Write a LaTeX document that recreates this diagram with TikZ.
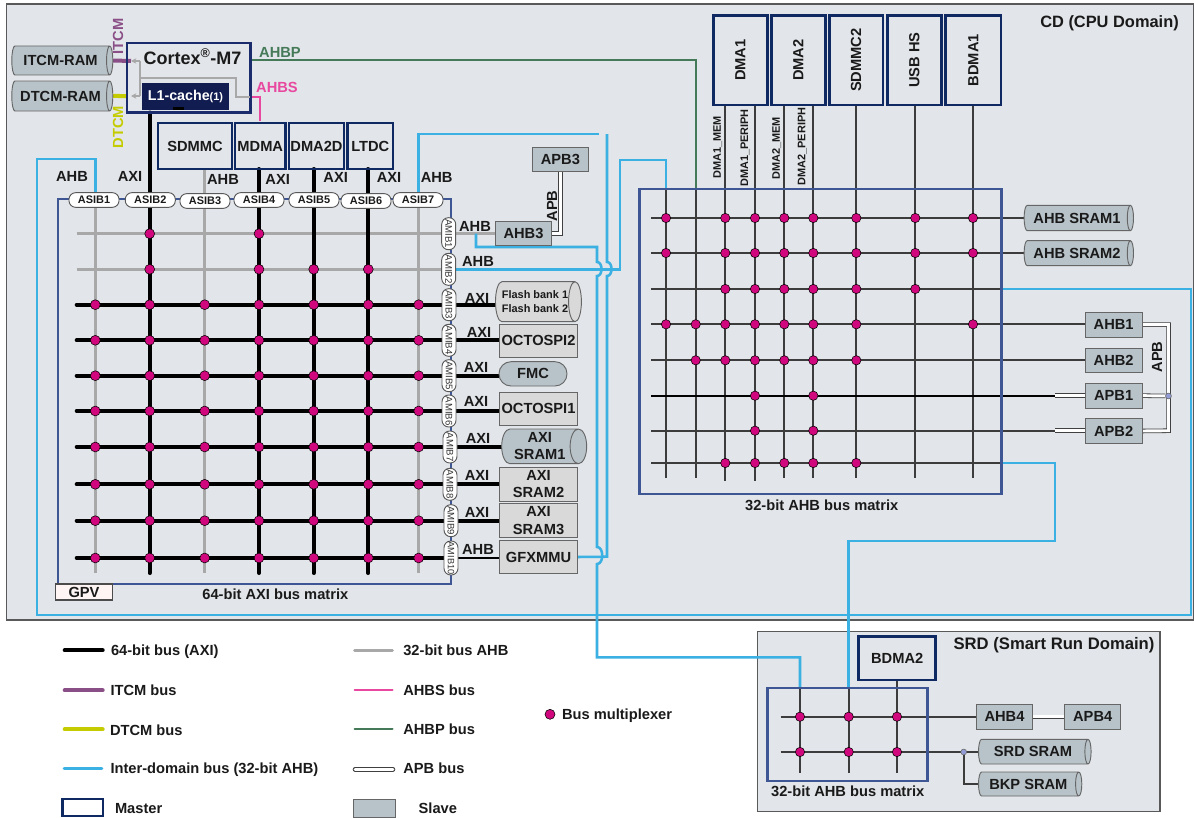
\documentclass[tikz,border=0pt]{standalone}
\usepackage{fontspec}
\setmainfont{Liberation Sans}
\usepackage{graphicx}
\usetikzlibrary{shapes.geometric,arrows.meta}
\definecolor{dombg}{HTML}{E2E5E9}
\definecolor{slaveblue}{HTML}{B8C3C9}
\definecolor{slavegray}{HTML}{D9D9D9}
\definecolor{masternavy}{HTML}{0F2A63}
\definecolor{cortexnavy}{HTML}{1A2C6B}
\definecolor{l1navy}{HTML}{111C50}
\definecolor{framenavy}{HTML}{3E5694}
\definecolor{cyanbus}{HTML}{3AB0E3}
\definecolor{graybus}{HTML}{A8A8A8}
\definecolor{darkbus}{HTML}{3C3C3C}
\definecolor{muxpink}{HTML}{D1087D}
\definecolor{itcmcol}{HTML}{8A4F87}
\definecolor{dtcmcol}{HTML}{C4CC00}
\definecolor{ahbpcol}{HTML}{457A58}
\definecolor{ahbscol}{HTML}{E8489F}
\definecolor{txt}{HTML}{1A1A1A}
\pgfdeclarelayer{dom}
\pgfdeclarelayer{bus}
\pgfsetlayers{dom,bus,main}
\newcommand{\bx}[7]{\node[#1,minimum width={(#5-#3)*0.75pt},minimum height={(#6-#4)*0.75pt}] (#2) at ({(#3+#5)/2},{(#4+#6)/2}) {#7};}
\newcommand{\cy}[7]{\node[#1,minimum width={(#6-#4)*0.75pt},minimum height={(#5-#3)*0.75pt}] (#2) at ({(#3+#5)/2},{(#4+#6)/2}) {#7};}
\tikzset{
  base/.style={inner sep=0pt,outer sep=0pt,text=txt},
  lab/.style={base,font=\fontsize{11pt}{13pt}\selectfont\bfseries},
  labl/.style={lab,anchor=west,text height=8pt,text depth=0pt},
  titl/.style={base,text height=8.6pt,text depth=0pt},
  small/.style={base,font=\fontsize{8.2pt}{10pt}\selectfont\bfseries},
  dombox/.style={base,draw=black!65,line width=0.9pt,fill=dombg},
  mframe/.style={base,draw=framenavy,line width=1.9pt},
  master/.style={lab,draw=masternavy,line width=1.9pt},
  slave/.style={lab,draw=black!60,line width=0.7pt,fill=slaveblue,align=center},
  slavel/.style={slave,fill=slavegray},
  cyl/.style={slave,cylinder,shape border rotate=0,aspect=.6},
  cyll/.style={cyl,fill=slavegray},
  asib/.style={base,draw=black!65,line width=0.7pt,fill=white,rounded corners=5pt,minimum width=37.5pt,minimum height=11pt,font=\fontsize{8.2pt}{10pt}\selectfont\bfseries},
  amib/.style={base,draw=black!65,line width=0.7pt,fill=white,rounded corners=5pt,minimum width=24pt,minimum height=10.5pt,rotate=-90,font=\fontsize{7.2pt}{9pt}\selectfont,text=black!80},
  mux/.style={circle,draw=black,line width=0.4pt,fill=muxpink,minimum size=7.4pt,inner sep=0pt},
  joint/.style={circle,draw=black!60,line width=0.4pt,fill=blue!20!slaveblue,minimum size=4.4pt,inner sep=0pt},
  axibus/.style={draw=black,line width=3pt,line cap=round},
  axithin/.style={draw=black,line width=1.4pt},
  grayb/.style={draw=graybus,line width=2.2pt},
  darkb/.style={draw=darkbus,line width=1.7pt},
  cyanb/.style={draw=cyanbus,line width=1.9pt},
  itcmb/.style={draw=itcmcol,line width=3pt},
  dtcmb/.style={draw=dtcmcol,line width=3pt},
  ahbpb/.style={draw=ahbpcol,line width=1.5pt},
  ahbsb/.style={draw=ahbscol,line width=1.5pt},
  apbb/.style={draw=black!75,line width=0.6pt,double=white,double distance=2.2pt},
  innerb/.style={draw=graybus,line width=1.2pt},
  innerarr/.style={innerb,-{Stealth[length=4pt,width=4pt]}},
}
\begin{document}
\begin{tikzpicture}[x=0.75pt,y=-0.75pt]
\useasboundingbox (0,0) rectangle (1194,817);
\begin{pgfonlayer}{dom}
  \fill[white] (0,0) rectangle (1194,817);
  \bx{dombox}{cd}{6.5}{4}{1194}{620}{}
  \bx{dombox}{srd}{757.5}{631.7}{1160}{811.7}{}
\end{pgfonlayer}
\node[titl,font=\fontsize{12.3pt}{14pt}\selectfont\bfseries] (cdt) at (1109.5,22) {CD (CPU Domain)};
\node[titl,font=\fontsize{12.5pt}{14pt}\selectfont\bfseries] (srdt) at (1054,644) {SRD (Smart Run Domain)};

% matrix frames
\bx{mframe}{mx64}{58}{199}{451}{584}{}
\bx{mframe}{mx32}{639.5}{189}{1001.3}{494}{}
\bx{mframe}{mxs}{767.7}{688}{927.3}{781}{}

% top-left block
\cy{cyl}{itcm}{10}{46}{111}{75}{ITCM-RAM}
\cy{cyl}{dtcm}{10}{81}{111}{111}{DTCM-RAM}
\bx{base,draw=cortexnavy,line width=1.9pt}{cortex}{127}{43}{250.5}{112.5}{}
\node[lab,font=\fontsize{13.5pt}{15pt}\selectfont\bfseries] (cortext) at (192.5,57) {Cortex\textsuperscript{®}-M7};
\bx{base,fill=l1navy,text=white,font=\fontsize{10.7pt}{13pt}\selectfont\bfseries}{l1}{142}{83}{229}{110}{L1-cache{\fontsize{8.2pt}{10pt}\selectfont(1)}}
\bx{master}{sdmmc}{158}{123}{232}{169}{SDMMC}
\bx{master}{mdma}{235}{123}{285.5}{169}{MDMA}
\bx{master}{dma2d}{289}{123}{344}{169}{DMA2D}
\bx{master}{ltdc}{347.5}{123}{393}{169}{LTDC}
\bx{base,draw=black!70,line width=0.9pt,fill=pink!15!white,font=\fontsize{11pt}{13pt}\selectfont\bfseries}{gpv}{55.7}{584}{112.3}{600}{GPV}

% ASIB / AMIB
\foreach \k/\x/\y in {1/94/200,2/150.3/200,3/205/201,4/259/200,5/314/200,6/366/201,7/418/200}
  \node[asib] (asib\k) at (\x,\y) {ASIB\k};
\foreach \k/\x/\y in {1/448.7/233.7,2/448.7/269.3,3/449/304.7,4/449/340.3,5/449/375.7,6/449/411,7/450/447,8/450/484.3,9/451/520.7}
  \node[amib] (amib\k) at (\x,\y) {AMIB\k};
\node[amib,minimum width=25.5pt,font=\fontsize{6.9pt}{9pt}\selectfont] (amib10) at (451,558) {AMIB10};

% left slaves
\bx{slave}{ahbt}{495.3}{221}{551.7}{245.7}{AHB3}
\bx{slave}{apbt}{532}{147}{588.7}{171.7}{APB3}
\cy{cyll,font=\fontsize{8.2pt}{10pt}\selectfont\bfseries}{flash}{492.7}{281.7}{577.3}{321.7}{Flash bank 1\\Flash bank 2}
\bx{slavel}{octb}{499.3}{324}{577.7}{357.3}{OCTOSPI2}
\bx{slave,rounded corners=9pt}{fmc}{499}{361.7}{567}{386}{FMC}
\bx{slavel}{octa}{499.3}{392}{577.7}{425.3}{OCTOSPI1}
\cy{cyl}{srama}{497.3}{429}{582.3}{463.7}{AXI\\SRAM1}
\bx{slavel}{sramb}{499.3}{467.3}{577.7}{501}{AXI\\SRAM2}
\bx{slavel}{sramc}{499.3}{503.7}{577.7}{537.3}{AXI\\SRAM3}
\bx{slavel}{gfx}{499.3}{540.3}{577.7}{573.7}{GFXMMU}

% right masters
\bx{master}{dmaa}{713.3}{15.3}{767.3}{105}{\rotatebox{90}{DMA1}}
\bx{master}{dmab}{771.3}{15.3}{825.3}{105}{\rotatebox{90}{DMA2}}
\bx{master}{sdmmcb}{829.3}{15.3}{883}{105}{\rotatebox{90}{SDMMC2}}
\bx{master}{usbhs}{887.3}{15.3}{941.3}{105}{\rotatebox{90}{USB HS}}
\bx{master}{bdmaa}{945.7}{15.3}{1001}{105}{\rotatebox{90}{BDMA1}}

% right slaves
\cy{cyl}{srsa}{1022.3}{205.3}{1131.7}{230.7}{AHB SRAM1}
\cy{cyl}{srsb}{1022.3}{240.7}{1131.7}{265.7}{AHB SRAM2}
\bx{slave}{ahba}{1085.3}{312.3}{1142}{337}{AHB1}
\bx{slave}{ahbb}{1085.3}{348.3}{1142}{372.7}{AHB2}
\bx{slave}{apba}{1085.3}{383.3}{1142}{408}{APB1}
\bx{slave}{apbb}{1085.3}{418.7}{1142}{443.3}{APB2}

% SRD
\bx{master}{bdmab}{858.7}{636.7}{935.7}{680}{BDMA2}
\bx{slave}{ahbd}{976.3}{704.7}{1032.7}{729}{AHB4}
\bx{slave}{apbd}{1064.7}{704.7}{1120.7}{729}{APB4}
\cy{cyl}{srdsram}{976.7}{739.3}{1089.3}{764}{SRD SRAM}
\cy{cyl}{bkpsram}{976.7}{772}{1080}{796}{BKP SRAM}

% grid coordinates
\foreach \j/\x in {1/95.3,2/149.7,3/204.7,4/259,5/313.7,6/368.3,7/418.7}
  \coordinate (lc\j) at (\x,573);
\foreach \i/\y in {1/233.7,2/269.3,3/304.7,4/340.3,5/375.7,6/411,7/447,8/484.3,9/520.7,10/558}
  \coordinate (lr\i) at (76.7,\y);
\foreach \j/\x/\y in {1/666/478,2/695.7/478,3/725.3/481,4/755/481,5/784.3/478,6/813.3/478,7/856.3/478,8/915.3/478,9/973/478}
  \coordinate (rc\j) at (\x,\y);
\foreach \i/\y in {1/218,2/253,3/289,4/324.3,5/360.3,6/395.7,7/430.7,8/463}
  \coordinate (rr\i) at (651.3,\y);
\foreach \j/\x in {1/800,2/848.7,3/897}
  \coordinate (sc\j) at (\x,773.3);
\foreach \i/\y in {1/716.7,2/752}
  \coordinate (sr\i) at (780.7,\y);
\coordinate (rendc) at (mx32.east |- rr3);
\coordinate (rendh) at (mx32.east |- rr8);
\coordinate (dblf) at (1055,395.7);
\coordinate (dblg) at (1055,430.7);
\coordinate (apbtop) at (1168.5,324.7);
\coordinate (apbbot) at (1168.5,430.7);
\coordinate (cjn) at (476,233.7);
\coordinate (cgap) at (599,134);
\coordinate (ctop) at (607,134);
\node[joint] (jnr) at (1168.5,396) {};
\node[joint] (jns) at (963.7,752) {};

\begin{pgfonlayer}{bus}
  % left grid
  \draw[grayb] (lc1 |- asib1.south) -- (lc1);
  \draw[grayb] (lc3 |- sdmmc.south) -- (lc3);
  \draw[grayb] (lc7 |- asib7.south) -- (lc7);
  \draw[grayb] (lr1) -- (amib1.center);
  \draw[grayb] (lr2) -- (amib2.center);
  \draw[axibus] (lc2 |- cortex.south) -- (lc2);
  \draw[axibus] (lc4 |- mdma.south) -- (lc4);
  \draw[axibus] (lc5 |- dma2d.south) -- (lc5);
  \draw[axibus] (lc6 |- ltdc.south) -- (lc6);
  \foreach \i in {3,...,10} \draw[axibus] (lr\i) -- (amib\i.center);
  \foreach \i/\n in {3/flash,4/octb,5/fmc,6/octa,7/srama,8/sramb,9/sramc}
    \draw[axibus,line cap=butt] (amib\i.center) -- (amib\i.center -| \n.west);
  \draw[axithin] (amib10.center) -- (amib10.center -| gfx.west);
  \draw[grayb] (amib1.center) -- (amib1.center -| ahbt.west);
  % right grid
  \draw[darkb] (rc1 |- mx32.north) -- (rc1);
  \draw[darkb] (rc2 |- mx32.north) -- (rc2);
  \draw[darkb] (rc3 |- dmaa.south) -- (rc3);
  \draw[darkb] (rc4 |- dmaa.south) -- (rc4);
  \draw[darkb] (rc5 |- dmab.south) -- (rc5);
  \draw[darkb] (rc6 |- dmab.south) -- (rc6);
  \draw[darkb] (rc7 |- sdmmcb.south) -- (rc7);
  \draw[darkb] (rc8 |- usbhs.south) -- (rc8);
  \draw[darkb] (rc9 |- bdmaa.south) -- (rc9);
  \draw[darkb] (rr1) -- (rr1 -| srsa.west);
  \draw[darkb] (rr2) -- (rr2 -| srsb.west);
  \draw[darkb] (rr3) -- (rendc);
  \draw[darkb] (rr4) -- (rr4 -| ahba.west);
  \draw[darkb] (rr5) -- (rr5 -| ahbb.west);
  \draw[axithin] (rr6) -- (dblf);
  \draw[darkb] (rr7) -- (dblg);
  \draw[darkb] (rr8) -- (rendh);
  \draw[apbb] (dblf) -- (dblf -| apba.west);
  \draw[apbb] (dblg) -- (dblg -| apbb.west);
  \draw[apbb] (ahba.east) -- (apbtop) -- (apbbot) -- (apbb.east);
  \draw[apbb] (apba.east) -- (jnr);
  % SRD grid
  \draw[darkb] (sc1 |- mxs.north) -- (sc1);
  \draw[darkb] (sc2 |- mxs.north) -- (sc2);
  \draw[darkb] (sc3 |- bdmab.south) -- (sc3);
  \draw[darkb] (sr1) -- (sr1 -| ahbd.west);
  \draw[darkb] (sr2) -- (sr2 -| srdsram.west);
  \draw[darkb] (jns) |- (bkpsram.west);
  \draw[apbb] (ahbd.east) -- (apbd.west);
  \draw[apbb] (ahbt.east) -| (apbt.south);
  % core buses
  \draw[itcmb] (itcm.east) -- (131,61);
  \draw[dtcmb] (dtcm.east) -- (127,96);
  \draw[ahbpb] (cortex.east |- itcm.east) -- (rc2 |- itcm.east) -- (rc2 |- mx32.north);
  \draw[ahbsb] (cortex.east |- 0,97) -- (mdma.north |- 0,97) -- ([yshift=1.5pt]mdma.north);
\end{pgfonlayer}

% inside Cortex
\coordinate (ga) at (140,61);
\coordinate (gb) at (140,96);
\coordinate (gc) at (140,78);
\coordinate (gd) at (236,78);
\coordinate (ge) at (236,97);
\coordinate (gf) at (250,97);
\coordinate (gi) at (131,61);
\coordinate (gj) at (131,96);
\draw[innerb] (ga) -- (gb);
\draw[innerarr] (ga) -- (gi);
\draw[innerarr] (gb) -- (gj);
\draw[innerb] (gc) -- (gd) -- (ge) -- (gf);
\coordinate (bara) at (173,108.5);
\coordinate (barb) at (184,108.5);
\draw[draw=black,line width=1.9pt] (bara) -- (barb);

% inter-domain buses
\begin{pgfonlayer}{bus}
  \draw[cyanb] (lc1 |- asib1.north) -- (lc1 |- 0,159) -- (37,159) -- (37,615) -- (1191,615) -- (1191,289) -- (rendc);
  \draw[cyanb] (lc7 |- asib7.north) -- (lc7 |- cgap) -- (cgap);
  \draw[cyanb] (gfx.east) -- (607,556.7) -- (607,276) .. controls (613,276) and (613,262) .. (607,262) -- (ctop);
  \draw[cyanb] (cjn) -- (476,247) -- (597,247) -- (597,262) .. controls (603,262) and (603,276) .. (597,276) -- (597,547) .. controls (604,547) and (604,564) .. (597,564) -- (597,657.3) -- (sc1 |- 0,657.3) -- (sc1 |- mxs.north);
  \draw[cyanb] (amib2.center) -- (620,269.3) -- (620,160) -- (rc1 |- 0,160) -- (rc1 |- mx32.north);
  \draw[cyanb] (rendh) -- (1055,463) -- (1055,541) -- (sc2 |- 0,541) -- (sc2 |- mxs.north);
\end{pgfonlayer}

% multiplexers, left
\foreach \j in {2,4} \node[mux] (ma1-\j) at (lr1 -| lc\j) {};
\foreach \j in {2,4,5,6} \node[mux] (ma2-\j) at (lr2 -| lc\j) {};
\foreach \i in {3,...,10} \foreach \j in {1,...,7} \node[mux] (ma\i-\j) at (lr\i -| lc\j) {};
% multiplexers, right
\foreach \i/\l in {1/{1,3,4,5,6,7,8,9},2/{1,3,4,5,6,7,8,9},3/{3,4,5,6,7,8},4/{1,2,3,4,5,6,7,9},5/{2,3,4,5,6,7},6/{4,6},7/{4,6},8/{3,4,5,6,7}}
  \foreach \j in \l \node[mux,minimum size=7pt] (mb\i-\j) at (rr\i -| rc\j) {};
% multiplexers, SRD
\foreach \i in {1,2} \foreach \j in {1,2,3} \node[mux,minimum size=7pt] (mc\i-\j) at (sr\i -| sc\j) {};

% bus labels
\foreach \k/\x/\y/\t in {a/72/176/AHB,b/130/176/AXI,c/223/179/AHB,d/277.7/179/AXI,e/335.7/177/AXI,f/389/177/AXI,g/436.7/177/AHB,h/475/226/AHB,i/478/261/AHB,j/477/298/AXI,k/479/332/AXI,l/476/367/AXI,m/476/401/AXI,n/478/438/AXI,o/477/475/AXI,p/477/512/AXI,q/478/549/AHB}
  \node[lab] (bl\k) at (\x,\y) {\t};
\node[lab,text=ahbpcol] (lahbp) at (280,52) {AHBP};
\node[lab,text=ahbscol] (lahbs) at (277,87) {AHBS};
\node[lab,text=itcmcol,rotate=90] (litcm) at (118,36.5) {ITCM};
\node[lab,text=dtcmcol,rotate=90] (ldtcm) at (118,127) {DTCM};
\node[lab,rotate=90] (lapbl) at (552,206) {APB};
\node[lab,rotate=90] (lapbr) at (1157,357) {APB};
\node[small,rotate=90] (ldma1m) at (717.7,147.5) {DMA1\_MEM};
\node[small,rotate=90] (ldma1p) at (745,148) {DMA1\_PERIPH};
\node[small,rotate=90] (ldma2m) at (776.7,148.5) {DMA2\_MEM};
\node[small,rotate=90] (ldma2p) at (802.3,146.5) {DMA2\_PERIPH};
\node[lab] (t64) at (275.3,594) {64-bit AXI bus matrix};
\node[lab] (t32) at (821.7,505) {32-bit AHB bus matrix};
\node[lab] (ts32) at (847.7,791) {32-bit AHB bus matrix};

% legend
\foreach \k/\st/\x/\y in {a/axibus/64.7/650.3,b/itcmb/64.7/690.3,c/dtcmb/64.7/729.3,d/cyanb/64/768.7,e/grayb/354.5/650.3,f/ahbsb/354.5/690,g/ahbpb/354.5/729,h/apbb/355/769.3}{
  \coordinate (lg\k1) at (\x,\y);
  \coordinate (lg\k2) at (\x+38,\y);
  \draw[\st,line cap=round] (lg\k1) -- (lg\k2);
}
\foreach \k/\x/\y/\t in {a/111/650/64-bit bus (AXI),b/110.5/690/ITCM bus,c/110/730/DTCM bus,d/110.5/768/Inter-domain bus (32-bit AHB),e/115/808/Master,f/403.3/650/32-bit bus AHB,g/403.3/690/AHBS bus,h/403.3/729/AHBP bus,i/403.3/768/APB bus,j/418.7/808/Slave,k/562/714/Bus multiplexer}
  \node[labl] (lt\k) at (\x,\y) {\t};
\bx{master,fill=white}{lgm}{62.5}{799}{103}{816}{}
\bx{slave}{lgs}{353.5}{799.5}{395}{817}{}
\node[mux,minimum size=7.5pt] (lgx) at (550,714.3) {};
\end{tikzpicture}
\end{document}
